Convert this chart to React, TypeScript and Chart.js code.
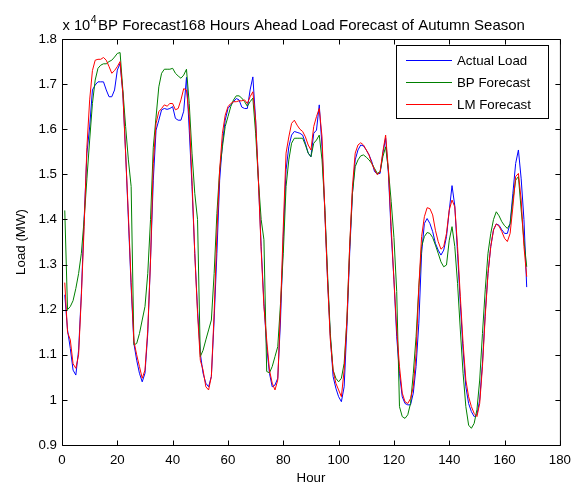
import React, { useEffect, useRef } from "react";
import { Chart, registerables } from "chart.js";

Chart.register(...registerables);

// Hours 1..168
const hours: number[] = Array.from({ length: 168 }, (_, i) => i + 1);

// Load values in units of 10^4 MW
const actualLoad: number[] = [
  1.233, 1.155, 1.114, 1.066, 1.055, 1.11, 1.236, 1.4, 1.547, 1.605,
  1.687, 1.698, 1.705, 1.705, 1.705, 1.687, 1.672, 1.672, 1.687, 1.731,
  1.746, 1.68, 1.547, 1.4, 1.25, 1.125, 1.088, 1.059, 1.04, 1.059,
  1.147, 1.31, 1.487, 1.598, 1.62, 1.643, 1.646, 1.644, 1.646, 1.65,
  1.624, 1.62, 1.62, 1.64, 1.715, 1.598, 1.473, 1.325, 1.2, 1.103,
  1.059, 1.037, 1.029, 1.052, 1.177, 1.325, 1.487, 1.569, 1.62, 1.646,
  1.654, 1.661, 1.668, 1.665, 1.649, 1.646, 1.646, 1.687, 1.716, 1.62,
  1.487, 1.34, 1.214, 1.118, 1.059, 1.029, 1.033, 1.048, 1.177, 1.362,
  1.51, 1.561, 1.587, 1.595, 1.593, 1.591, 1.587, 1.569, 1.547, 1.539,
  1.591, 1.598, 1.654, 1.561, 1.42, 1.266, 1.14, 1.052, 1.026, 1.007,
  0.996, 1.029, 1.162, 1.325, 1.458, 1.532, 1.554, 1.565, 1.563, 1.554,
  1.543, 1.528, 1.506, 1.501, 1.502, 1.547, 1.58, 1.502, 1.369, 1.266,
  1.14, 1.059, 1.007, 0.992, 0.989, 0.989, 1.015, 1.074, 1.17, 1.325,
  1.391, 1.402, 1.391, 1.373, 1.347, 1.332, 1.321, 1.332, 1.362, 1.42,
  1.475, 1.43, 1.325, 1.214, 1.11, 1.029, 0.992, 0.974, 0.963, 0.967,
  1.0, 1.081, 1.192, 1.28, 1.34, 1.377, 1.39, 1.387, 1.377, 1.369,
  1.369, 1.391, 1.458, 1.524, 1.554, 1.49, 1.4, 1.25,
];

const bpForecast: number[] = [
  1.42, 1.2, 1.207, 1.22, 1.247, 1.28, 1.325, 1.4, 1.49, 1.576,
  1.657, 1.709, 1.735, 1.742, 1.745, 1.745, 1.75, 1.753, 1.76, 1.768,
  1.77, 1.687, 1.606, 1.532, 1.473, 1.122, 1.125, 1.147, 1.177, 1.207,
  1.28, 1.4, 1.56, 1.627, 1.694, 1.724, 1.733, 1.733, 1.733, 1.735,
  1.724, 1.718, 1.713, 1.72, 1.733, 1.657, 1.547, 1.458, 1.4, 1.096,
  1.11, 1.133, 1.155, 1.177, 1.28, 1.413, 1.51, 1.561, 1.606, 1.628,
  1.65, 1.665, 1.674, 1.674, 1.669, 1.661, 1.651, 1.661, 1.669, 1.591,
  1.487, 1.4, 1.355, 1.063, 1.06, 1.074, 1.096, 1.118, 1.214, 1.325,
  1.473, 1.532, 1.569, 1.58, 1.58, 1.58, 1.58, 1.565, 1.547, 1.539,
  1.569, 1.576, 1.587, 1.532, 1.428, 1.28, 1.147, 1.066, 1.048, 1.04,
  1.048, 1.081, 1.177, 1.34, 1.458, 1.517, 1.532, 1.541, 1.543, 1.538,
  1.532, 1.524, 1.513, 1.502, 1.506, 1.539, 1.561, 1.51, 1.44, 1.36,
  1.24, 0.985, 0.963, 0.959, 0.967, 0.992, 1.059, 1.14, 1.25, 1.34,
  1.362, 1.371, 1.369, 1.36, 1.343, 1.325, 1.306, 1.295, 1.299, 1.354,
  1.384, 1.34, 1.258, 1.155, 1.059, 0.985, 0.944, 0.937, 0.948, 0.978,
  1.044, 1.147, 1.244, 1.325, 1.369, 1.4, 1.417, 1.408, 1.395, 1.386,
  1.38, 1.39, 1.443, 1.487, 1.495, 1.421, 1.354, 1.295,
];

const lmForecast: number[] = [
  1.26, 1.15, 1.133, 1.08, 1.07, 1.1, 1.23, 1.384, 1.56, 1.665,
  1.73, 1.753, 1.755, 1.755, 1.759, 1.753, 1.739, 1.724, 1.73, 1.739,
  1.75, 1.68, 1.547, 1.41, 1.26, 1.13, 1.1, 1.074, 1.048, 1.066,
  1.155, 1.31, 1.524, 1.613, 1.639, 1.646, 1.654, 1.651, 1.657, 1.657,
  1.643, 1.646, 1.665, 1.69, 1.687, 1.628, 1.487, 1.325, 1.192, 1.088,
  1.066, 1.029, 1.022, 1.052, 1.192, 1.37, 1.51, 1.591, 1.631, 1.65,
  1.657, 1.661, 1.661, 1.663, 1.663, 1.665, 1.657, 1.672, 1.683, 1.62,
  1.487, 1.332, 1.207, 1.133, 1.066, 1.037, 1.022, 1.044, 1.2, 1.384,
  1.547, 1.583, 1.613, 1.62, 1.609, 1.6, 1.595, 1.583, 1.565, 1.554,
  1.606, 1.628, 1.646, 1.583, 1.42, 1.266, 1.133, 1.066, 1.037, 1.022,
  1.007, 1.066, 1.177, 1.34, 1.473, 1.547, 1.565, 1.57, 1.565, 1.554,
  1.543, 1.524, 1.51, 1.499, 1.506, 1.55, 1.587, 1.51, 1.384, 1.266,
  1.155, 1.074, 1.015, 0.996, 0.992, 1.003, 1.029, 1.103, 1.25, 1.362,
  1.406, 1.426, 1.424, 1.41, 1.376, 1.351, 1.334, 1.34, 1.369, 1.421,
  1.443, 1.428, 1.34, 1.229, 1.125, 1.044, 1.007, 0.985, 0.97, 0.963,
  0.992, 1.074, 1.185, 1.28, 1.34, 1.377, 1.39, 1.385, 1.373, 1.358,
  1.351, 1.369, 1.428, 1.495, 1.502, 1.443, 1.34, 1.273,
];

const xTicks: number[] = [0, 20, 40, 60, 80, 100, 120, 140, 160, 180];
const yTicks: number[] = [0.9, 1.0, 1.1, 1.2, 1.3, 1.4, 1.5, 1.6, 1.7, 1.8];
const seriesNames: string[] = ["Actual Load", "BP Forecast", "LM Forecast"];
const seriesColors: string[] = ["#0000ff", "#008000", "#ff0000"];
const titleText = "BP Forecast168 Hours Ahead Load Forecast of Autumn Season";
const xLabel = "Hour";
const yLabel = "Load (MW)";
const exponentBase = "x 10";
const exponentPower = "4";

const FONT = '"Liberation Sans", Arial, Helvetica, sans-serif';

const matlabPlugin = {
  id: "matlabDecor",
  afterDraw(chart: any) {
    const { ctx, chartArea } = chart;
    const { left, right, top, bottom } = chartArea;
    const xs = chart.scales.x;
    const ys = chart.scales.y;
    ctx.save();
    ctx.strokeStyle = "#000";
    ctx.lineWidth = 1;
    // frame
    ctx.beginPath();
    ctx.rect(left + 0.5, top + 0.5, right - left, bottom - top);
    ctx.stroke();
    // inward ticks
    ctx.beginPath();
    for (const t of xTicks) {
      const px = Math.round(xs.getPixelForValue(t)) + 0.5;
      ctx.moveTo(px, bottom + 0.5);
      ctx.lineTo(px, bottom + 0.5 - 5);
      ctx.moveTo(px, top + 0.5);
      ctx.lineTo(px, top + 0.5 + 5);
    }
    for (const t of yTicks) {
      const py = Math.round(ys.getPixelForValue(t)) + 0.5;
      ctx.moveTo(left + 0.5, py);
      ctx.lineTo(left + 0.5 + 5, py);
      ctx.moveTo(right + 0.5, py);
      ctx.lineTo(right + 0.5 - 5, py);
    }
    ctx.stroke();

    // legend
    const lx = 396.5, ly = 45.5, lw = 152, lh = 73;
    ctx.fillStyle = "#fff";
    ctx.fillRect(lx, ly, lw, lh);
    ctx.strokeStyle = "#000";
    ctx.strokeRect(lx, ly, lw, lh);
    ctx.font = `13.3px ${FONT}`;
    ctx.textBaseline = "middle";
    ctx.textAlign = "left";
    seriesNames.forEach((name, i) => {
      const yy = 60.5 + i * 22;
      ctx.strokeStyle = seriesColors[i];
      ctx.beginPath();
      ctx.moveTo(406, yy);
      ctx.lineTo(452, yy);
      ctx.stroke();
      ctx.fillStyle = "#000";
      ctx.fillText(name, 457, yy + 0.5);
    });

    // title
    ctx.fillStyle = "#000";
    ctx.textBaseline = "alphabetic";
    ctx.textAlign = "center";
    ctx.font = `15px ${FONT}`;
    ctx.fillText(titleText, (left + right) / 2 + 0.5, 29.5);

    // exponent label
    ctx.textAlign = "left";
    ctx.font = `14.67px ${FONT}`;
    ctx.fillText(exponentBase, 62.5, 30);
    const w = ctx.measureText(exponentBase).width;
    ctx.font = `10.5px ${FONT}`;
    ctx.fillText(exponentPower, 62.5 + w + 0.5, 23);
    ctx.restore();
  },
};

export default function App() {
  const canvasRef = useRef<HTMLCanvasElement | null>(null);

  useEffect(() => {
    const canvas = canvasRef.current;
    if (!canvas) return;
    const series = [actualLoad, bpForecast, lmForecast];
    const chart = new Chart(canvas, {
      type: "line",
      data: {
        datasets: series.map((vals, i) => ({
          label: seriesNames[i],
          data: hours.map((h, j) => ({ x: h, y: vals[j] })),
          borderColor: seriesColors[i],
          backgroundColor: seriesColors[i],
          borderWidth: 1,
          pointRadius: 0,
          tension: 0,
          fill: false,
          order: 2 - i,
        })),
      },
      options: {
        responsive: false,
        animation: false,
        events: [],
        layout: { padding: { top: 39, right: 14, bottom: 0, left: 0 } },
        plugins: {
          legend: { display: false },
          title: { display: false },
          tooltip: { enabled: false },
        },
        scales: {
          x: {
            type: "linear",
            min: 0,
            max: 180,
            afterBuildTicks: (s: any) => {
              s.ticks = xTicks.map((v) => ({ value: v }));
            },
            afterFit: (s: any) => {
              s.height = 42;
            },
            grid: { display: false, drawTicks: false },
            border: { display: false },
            ticks: {
              color: "#000",
              font: { family: FONT, size: 13.3 },
              padding: 7,
              maxRotation: 0,
              autoSkip: false,
              callback: (v: any) => String(v),
            },
            title: {
              display: true,
              text: xLabel,
              color: "#000",
              font: { family: FONT, size: 13.3 },
              padding: { top: 0, bottom: 0.8 },
            },
          },
          y: {
            type: "linear",
            min: 0.9,
            max: 1.8,
            afterBuildTicks: (s: any) => {
              s.ticks = yTicks.map((v) => ({ value: v }));
            },
            afterFit: (s: any) => {
              s.width = 62;
            },
            grid: { display: false, drawTicks: false },
            border: { display: false },
            ticks: {
              color: "#000",
              font: { family: FONT, size: 13.3 },
              padding: 5,
              autoSkip: false,
              callback: (v: any) => {
                const r = Math.round(Number(v) * 10) / 10;
                return r === 1 ? "1" : r.toFixed(1);
              },
            },
            title: {
              display: true,
              text: yLabel,
              color: "#000",
              font: { family: FONT, size: 13.3 },
              padding: { top: 13.7, bottom: 0 },
            },
          },
        },
      },
      plugins: [matlabPlugin],
    });
    return () => chart.destroy();
  }, []);

  return (
    <div style={{ position: "fixed", left: 0, top: 0, width: 578, height: 487, background: "#fff" }}>
      <canvas ref={canvasRef} width={578} height={487} style={{ display: "block", width: 578, height: 487 }} />
    </div>
  );
}
